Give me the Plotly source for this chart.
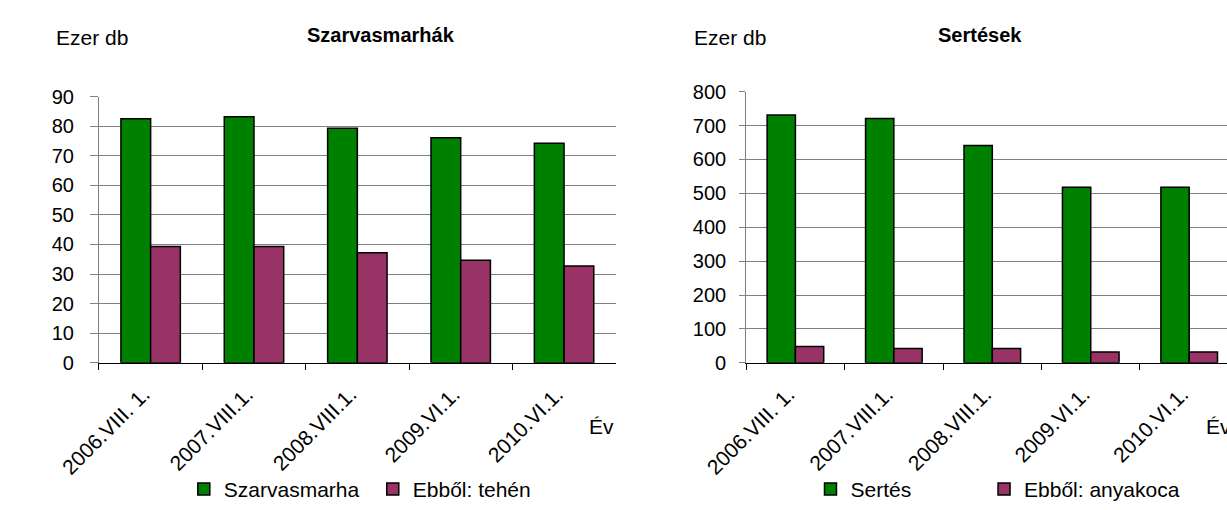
import plotly.graph_objects as go

categories = ["2006.VIII. 1.", "2007.VIII.1.", "2008.VIII.1.", "2009.VI.1.", "2010.VI.1."]
cattle = [82.5, 83.2, 79.3, 76.1, 74.2]
cows = [39.3, 39.3, 37.2, 34.7, 32.7]
pigs = [731, 721, 641, 518, 518]
sows = [48, 42, 42, 32, 32]

W, H = 1227, 510
GREEN = "#008000"
PURPLE = "#993366"
FONT = "Liberation Sans, Arial, sans-serif"

def px(x):
    return x / W

def py(y):
    return 1 - y / H

fig = go.Figure()
line = dict(color="black", width=1.5)
fig.add_trace(go.Bar(x=categories, y=cattle, name="Szarvasmarha", marker=dict(color=GREEN, line=line),
                     xaxis="x", yaxis="y", legend="legend"))
fig.add_trace(go.Bar(x=categories, y=cows, name="Ebből: tehén", marker=dict(color=PURPLE, line=line),
                     xaxis="x", yaxis="y", legend="legend2"))
fig.add_trace(go.Bar(x=categories, y=pigs, name="Sertés", marker=dict(color=GREEN, line=line),
                     xaxis="x2", yaxis="y2", legend="legend3"))
fig.add_trace(go.Bar(x=categories, y=sows, name="Ebből: anyakoca", marker=dict(color=PURPLE, line=line),
                     xaxis="x2", yaxis="y2", legend="legend4"))

xcommon = dict(type="category", tickson="boundaries", ticks="outside", ticklen=6, tickcolor="black",
               showline=True, linecolor="black", linewidth=1, tickangle=-45, showgrid=False,
               tickfont=dict(family=FONT, size=21, color="black"), ticklabelstandoff=10,
               ticklabelshift=-7)
ycommon = dict(showgrid=True, gridcolor="#808080", gridwidth=1, showline=True, linecolor="#808080",
               ticks="outside", tickcolor="#808080", zeroline=False,
               tickfont=dict(family=FONT, size=20, color="black"))

def leg(xpx):
    return dict(orientation="h", x=px(xpx), xanchor="left", y=py(500), yanchor="middle",
                font=dict(family=FONT, size=21), bgcolor="rgba(0,0,0,0)")

fig.update_layout(
    width=W, height=H,
    margin=dict(l=0, r=0, t=0, b=0),
    paper_bgcolor="white", plot_bgcolor="white",
    barmode="group", bargap=0.425, bargroupgap=0,
    font=dict(family=FONT, color="black"),
    xaxis=dict(domain=[px(57), px(593)], anchor="y", range=[-0.5, 4.5], **xcommon),
    yaxis=dict(domain=[py(367.7), py(89.4)], anchor="x", range=[0, 90], dtick=10, ticklen=8,
               ticklabelstandoff=12, **ycommon),
    xaxis2=dict(domain=[px(728.3), 1], anchor="y2", range=[-0.5, 4.384], **xcommon),
    yaxis2=dict(domain=[py(367.7), py(84.3)], anchor="x2", range=[0, 800], dtick=100, ticklen=6,
                ticklabelstandoff=9, **ycommon),
    legend=leg(145), legend2=leg(341), legend3=leg(795), legend4=leg(975),
    showlegend=True,
)

ann = [
    dict(text="Ezer db", x=px(10), y=py(28), xanchor="left", yanchor="middle", font=dict(size=21)),
    dict(text="<b>Szarvasmarhák</b>", x=px(350), y=py(25), xanchor="center", yanchor="middle", font=dict(size=20)),
    dict(text="Év", x=px(563), y=py(434), xanchor="left", yanchor="middle", font=dict(size=21)),
    dict(text="Ezer db", x=px(672), y=py(28), xanchor="left", yanchor="middle", font=dict(size=21)),
    dict(text="<b>Sertések</b>", x=px(971), y=py(25), xanchor="center", yanchor="middle", font=dict(size=20)),
    dict(text="Év", x=px(1203), y=py(434), xanchor="left", yanchor="middle", font=dict(size=21)),
]
for a in ann:
    a.update(xref="paper", yref="paper", showarrow=False)
    a["font"] = dict(family=FONT, color="black", **a["font"])
fig.update_layout(annotations=ann)

fig.write_html("out.html", config={"displayModeBar": False},
               post_script="document.body.style.margin='0';document.body.style.overflow='hidden';")
